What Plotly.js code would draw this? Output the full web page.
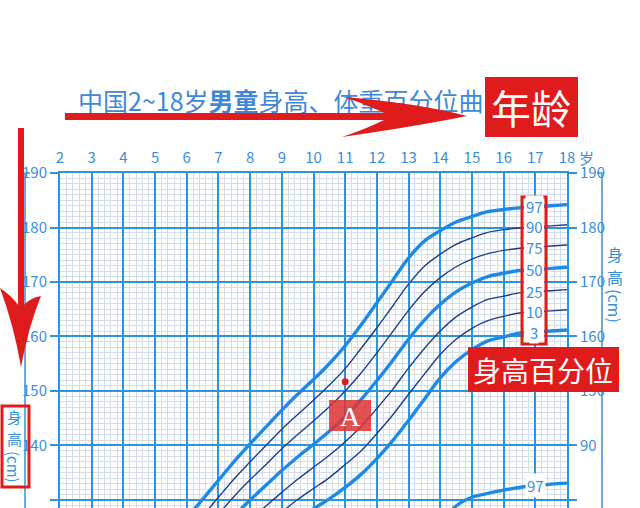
<!DOCTYPE html>
<html><head><meta charset="utf-8">
<script src="https://cdn.plot.ly/plotly-3.0.1.min.js"></script>
<style>html,body{margin:0;padding:0;background:#fff;overflow:hidden}</style>
</head><body><div id="chart" style="width:640px;height:508px"></div>
<script>
// ---- data ----
const ages = [6,6.5,7,7.5,8,8.5,9,9.5,10,10.5,11,11.5,12,12.5,13,13.5,14,14.5,15,15.5,16,16.5,17,17.5,18];
const p3  = [108.7,111.3,114.4,117.1,119.7,122.0,124.3,126.4,128.4,130.2,132.3,134.7,137.6,140.9,144.6,148.5,152.4,155.4,157.6,159.2,159.9,160.6,160.8,161.0,161.2];
const p10 = [111.6,114.3,117.5,120.3,123.0,125.4,127.8,130.1,132.1,134.1,136.5,139.0,142.2,145.6,149.4,153.1,156.7,159.5,161.5,162.9,163.7,164.3,164.5,164.7,164.9];
const p25 = [114.5,117.3,120.6,123.5,126.3,128.9,131.4,133.8,136.0,138.2,140.7,143.5,146.8,150.3,154.2,157.8,161.0,163.6,165.4,166.8,167.4,168.0,168.2,168.4,168.6];
const p50 = [117.7,120.7,124.0,127.1,130.0,132.7,135.4,137.9,140.2,142.6,145.3,148.4,151.9,155.6,159.5,163.0,165.9,168.2,169.8,171.0,171.6,172.1,172.3,172.5,172.7];
const p75 = [120.9,124.1,127.4,130.7,133.7,136.5,139.4,142.0,144.5,147.1,150.0,153.3,157.0,160.9,164.8,168.2,170.8,172.8,174.2,175.2,175.8,176.2,176.4,176.6,176.8];
const p90 = [123.9,127.1,130.5,133.9,137.0,140.0,143.0,145.7,148.3,151.1,154.1,157.8,161.6,165.6,169.6,172.9,175.1,176.9,178.1,179.1,179.6,179.9,180.1,180.3,180.5];
const p97 = [126.7,130.1,133.6,137.1,140.3,143.4,146.5,149.4,152.1,155.0,158.3,162.1,166.2,170.3,174.4,177.5,179.4,181.0,182.0,182.9,183.3,183.6,183.8,184.0,184.2];
const pctLabels = ['97','90','75','50','25','10','3'];
const wAges = [14,14.5,15,15.5,16,16.5,17,17.5,18];
const w97 = [75.6,78.9,80.5,81.2,81.8,82.3,82.6,82.9,83.1];
const xTickVals = [2,3,4,5,6,7,8,9,10,11,12,13,14,15,16,17,18];
const xTickText = ['2','3','4','5','6','7','8','9','10','11','12','13','14','15','16','17','18'];
const rightTickVals = [80,90,100,110,120,130,140];
const rightTickText = ['80','90','150','160','170','180','190'];
const pointAge = [11];
const pointHeight = [151.7];
const titleText = '中国2~18岁<b>男童</b>身高、体重百分位曲线';

// ---- styles / geometry ----
const BLUE = '#2e93dd', TXT = '#3a8fd6', THICK = '#1f8ae6', THIN = '#1c3f8c', RED = '#e01b1b', MINOR = '#d3dee9';
const FONT = 'Noto Sans CJK SC';
const W=640, H=508, X0=60, X1=567, Y0=173;
const YMIN = 128.53, YMAX = 190;
function xp(px){return (px-X0)/(X1-X0);}
function yp(py){return (H-py)/H;}
function pth(a){let s='';for(let i=0;i<a.length;){if(typeof a[i]==='string'){s+=a[i]+' ';i++;}else{s+=xp(a[i]).toFixed(5)+','+yp(a[i+1]).toFixed(5)+' ';i+=2;}}return s.trim();}
function rectPx(x0,y0,x1,y1,o){return Object.assign({type:'rect',xref:'paper',yref:'paper',x0:xp(x0),x1:xp(x1),y0:yp(y1),y1:yp(y0),layer:'above'},o);}
function txt(px,py,text,size,color,extra){return Object.assign({xref:'paper',yref:'paper',x:xp(px),y:yp(py),text:text,showarrow:false,xanchor:'center',yanchor:'middle',font:{size:size,color:color,family:FONT}},extra||{});}

const series = [p97,p90,p75,p50,p25,p10,p3];
const thick = [true,false,false,true,false,false,true];
const traces = series.map((s,i)=>({
  x: ages, y: s, type:'scatter', mode:'lines', hoverinfo:'skip',
  line:{color: thick[i]?THICK:THIN, width: thick[i]?3.4:1.4, shape:'spline', smoothing:1}
}));
traces.push({x:wAges, y:w97, yaxis:'y2', type:'scatter', mode:'lines', hoverinfo:'skip',
  line:{color:THICK, width:3.4, shape:'spline', smoothing:1}});
traces.push({x:pointAge, y:pointHeight, type:'scatter', mode:'markers', hoverinfo:'skip',
  marker:{color:RED, size:7}});
// title text on a hidden pixel-scaled subplot so the red arrow/box shapes cover it
traces.push({x:[78], y:[105], xaxis:'x3', yaxis:'y3', type:'scatter', mode:'text', cliponaxis:false, hoverinfo:'skip',
  text:[titleText], textposition:'middle right',
  textfont:{size:25, color:'#3f88d8', family:FONT}});

const shapes = [
  {type:'path', xref:'paper', yref:'paper', layer:'above', path:pth(['M',30,173,'L',25,173,'L',25,510]), line:{color:TXT,width:1.5}},
  {type:'path', xref:'paper', yref:'paper', layer:'above', path:pth(['M',597,173,'L',602,173,'L',602,510]), line:{color:TXT,width:1.5}},
  rectPx(524,199,544,343,{fillcolor:'#ffffff',line:{width:0}}),
  {type:'line', xref:'paper', yref:'paper', layer:'above', x0:xp(534), x1:xp(534), y0:yp(343), y1:yp(199), line:{color:TXT,width:1.5,dash:'3px,7px'}},
  rectPx(522,197,546,344,{line:{color:RED,width:3}}),
  rectPx(2,406,29,487,{line:{color:RED,width:3}}),
  rectPx(329,400,371,431,{fillcolor:'rgba(222,52,52,0.85)',line:{width:0}}),
  {type:'path', xref:'paper', yref:'paper', layer:'above', fillcolor:RED, line:{width:0},
   path:pth(['M',65,113,'L',384,113,'Q',366,104,343,97,'Q',418,103,467,116,'Q',418,126,342,137,'Q',366,129,384,120,'L',65,120,'Z'])},
  {type:'path', xref:'paper', yref:'paper', layer:'above', fillcolor:RED, line:{width:0},
   path:pth(['M',18,128,'L',24,128,'L',24,305,'Q',30,298,41,296,'Q',28,328,21,367,'Q',14,326,0,288,'Q',12,296,18,305,'Z'])},
  rectPx(485,77,578,137,{fillcolor:RED,line:{width:0}}),
  rectPx(468,347,619,392,{fillcolor:RED,line:{width:0}})
];

const i17 = ages.indexOf(17);
const annotations = [];
series.forEach((s,i)=>{
  annotations.push({xref:'paper', yref:'y', x:xp(534), y:s[i17], text:pctLabels[i], showarrow:false,
    xanchor:'center', yanchor:'middle', bgcolor:'#ffffff', borderpad:0,
    font:{size:15,color:TXT,family:FONT}});
});
annotations.push({xref:'paper', yref:'y2', x:xp(535), y:w97[wAges.indexOf(17)], text:'97', showarrow:false,
  xanchor:'center', yanchor:'middle', bgcolor:'#ffffff', borderpad:1, font:{size:15,color:TXT,family:FONT}});
annotations.push(txt(586,157,'岁',15,TXT));
annotations.push(txt(531,107,'年龄',40,'#ffffff'));
annotations.push(txt(543,370,'身高百分位',28,'#ffffff'));
annotations.push(txt(350,416,'A',28,'#ffffff',{font:{size:28,color:'#ffffff',family:'Liberation Serif'}}));
annotations.push(txt(14,416,'身',15,TXT));
annotations.push(txt(14,438,'高',15,TXT));
annotations.push(txt(14,467,'(cm)',15,TXT,{textangle:90}));
annotations.push(txt(615,254,'身',16,TXT));
annotations.push(txt(615,277,'高',16,TXT));
annotations.push(txt(615,306,'(cm)',16,TXT,{textangle:90}));

const layout = {
  width:W, height:H, margin:{l:X0,r:W-X1,t:0,b:0,pad:0},
  paper_bgcolor:'#ffffff', plot_bgcolor:'#ffffff', showlegend:false,
  xaxis:{domain:[0,1], anchor:'y', range:[2,18], side:'top', tickmode:'array', tickvals:xTickVals, ticktext:xTickText,
    ticks:'', ticklabelstandoff:2, tickfont:{size:15,color:TXT,family:FONT},
    showgrid:true, gridcolor:BLUE, gridwidth:2, zeroline:false,
    showline:true, linecolor:BLUE, linewidth:2, mirror:false,
    minor:{tickmode:'linear', tick0:2, dtick:0.2, showgrid:true, gridcolor:MINOR, gridwidth:1}},
  yaxis:{domain:[0,(H-Y0)/H], anchor:'x', range:[YMIN,YMAX], tickmode:'linear', tick0:130, dtick:10,
    ticks:'outside', ticklen:8, tickwidth:2, tickcolor:BLUE, tickfont:{size:15,color:TXT,family:FONT},
    showgrid:true, gridcolor:BLUE, gridwidth:2, zeroline:false,
    showline:true, linecolor:BLUE, linewidth:2,
    minor:{tickmode:'linear', tick0:130, dtick:1, showgrid:true, gridcolor:MINOR, gridwidth:1}},
  yaxis2:{range:[YMIN-50,YMAX-50], overlaying:'y', side:'right', anchor:'x', tickmode:'array',
    tickvals:rightTickVals, ticktext:rightTickText,
    ticks:'outside', ticklen:8, tickwidth:2, tickcolor:BLUE, tickfont:{size:15,color:TXT,family:FONT},
    showgrid:false, zeroline:false, showline:true, linecolor:BLUE, linewidth:2},
  xaxis3:{domain:[0,1], anchor:'y3', range:[X0,X1], visible:false, fixedrange:true},
  yaxis3:{domain:[(H-168)/H,1], anchor:'x3', range:[168,0], visible:false, fixedrange:true},
  shapes:shapes, annotations:annotations
};
Plotly.newPlot('chart', traces, layout, {staticPlot:true, displayModeBar:false});
</script></body></html>
